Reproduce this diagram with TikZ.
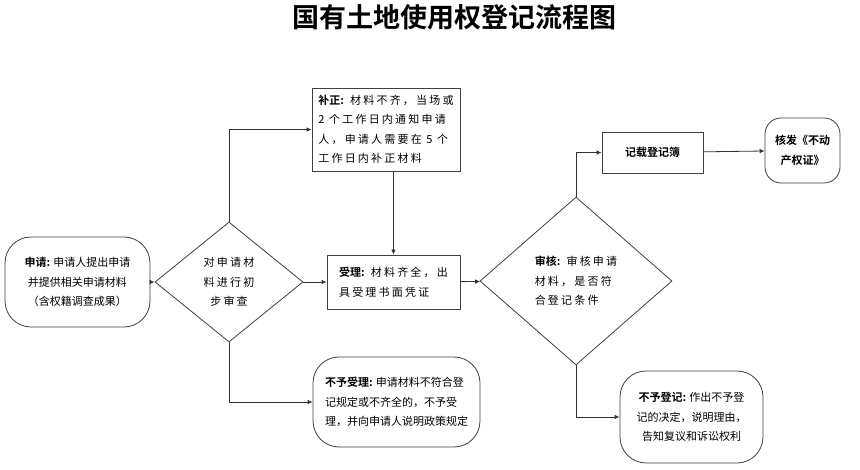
\documentclass[tikz,border=0pt]{standalone}
\usepackage{fontspec}
\setmainfont{Noto Sans CJK SC}[BoldFont={Noto Sans CJK SC Bold}]
\newfontfamily\widecjk{Noto Sans CJK SC}[LetterSpace=20,BoldFont={Noto Sans CJK SC Bold}]
\usetikzlibrary{arrows.meta,shapes.geometric}

\begin{document}
\begin{tikzpicture}[x=1pt,y=-1pt,
  box/.style={draw=black!75,line width=0.8pt,fill=white,inner sep=0pt,align=center,font=\fontsize{11}{19.5}\selectfont},
  endbox/.style={box,rounded corners=26pt},
  decide/.style={box,diamond},
  wide/.style={font=\widecjk\fontsize{11}{19.5}\selectfont},
  arrow/.style={-{Latex[length=5pt,width=4.5pt]},line width=0.8pt,draw=black!80}
]
\useasboundingbox (0,0) rectangle (860,470);

\node (title) at (454,17) {\fontsize{27}{30}\selectfont\bfseries 国有土地使用权登记流程图};

\node[endbox,minimum width=145pt,minimum height=90pt] (apply) at (77.5,282)
  {\textbf{申请:} 申请人提出申请\\并提供相关申请材料\\（含权籍调查成果）};
\node[decide,wide,minimum width=148pt,minimum height=120pt] (check) at (229,282)
  {对申请材\\料进行初\\步审查};
\node[box,wide,align=left,minimum width=148pt,minimum height=83pt] (fix) at (386,129.5)
  {{\rmfamily\bfseries 补正:} 材料不齐，当场或\\2 个工作日内通知申请\\人，申请人需要在 5 个\\工作日内补正材料};
\node[box,wide,align=left,minimum width=133pt,minimum height=54pt] (accept) at (393.5,282)
  {{\rmfamily\bfseries 受理:} 材料齐全，出\\具受理书面凭证};
\node[endbox,align=left,minimum width=167pt,minimum height=90pt] (refuse) at (396.5,402)
  {\textbf{不予受理:} 申请材料不符合登\\记规定或不齐全的，不予受\\理，并向申请人说明政策规定};
\node[decide,wide,align=left,minimum width=192pt,minimum height=168pt] (audit) at (576,281)
  {{\rmfamily\bfseries 审核:} 审核申请\\材料，是否符\\合登记条件};
\node[box,minimum width=101pt,minimum height=41pt,font=\bfseries\fontsize{11}{19.5}\selectfont] (record) at (652.5,152.5)
  {记载登记簿};
\node[endbox,rounded corners=16pt,minimum width=75pt,minimum height=65pt,font=\bfseries\fontsize{11}{19.5}\selectfont] (issue) at (802.5,150.5)
  {核发《不动\\产权证》};
\node[endbox,minimum width=143pt,minimum height=92pt] (deny) at (691.5,417)
  {\textbf{不予登记:} 作出不予登\\记的决定，说明理由，\\告知复议和诉讼权利};

\draw[arrow] (apply) -- (check);
\draw[arrow] (check.north) |- (fix.west);
\draw[arrow] (fix.south -| accept.north) -- (accept.north);
\draw[arrow] (check) -- (accept);
\draw[arrow] (check.south) |- (refuse.west);
\draw[arrow] (accept) -- (audit);
\draw[arrow] (audit.north) |- (record.west);
\draw[arrow] (audit.south) |- (deny.west);
\draw[arrow] (record) -- (issue);
\end{tikzpicture}
\end{document}
